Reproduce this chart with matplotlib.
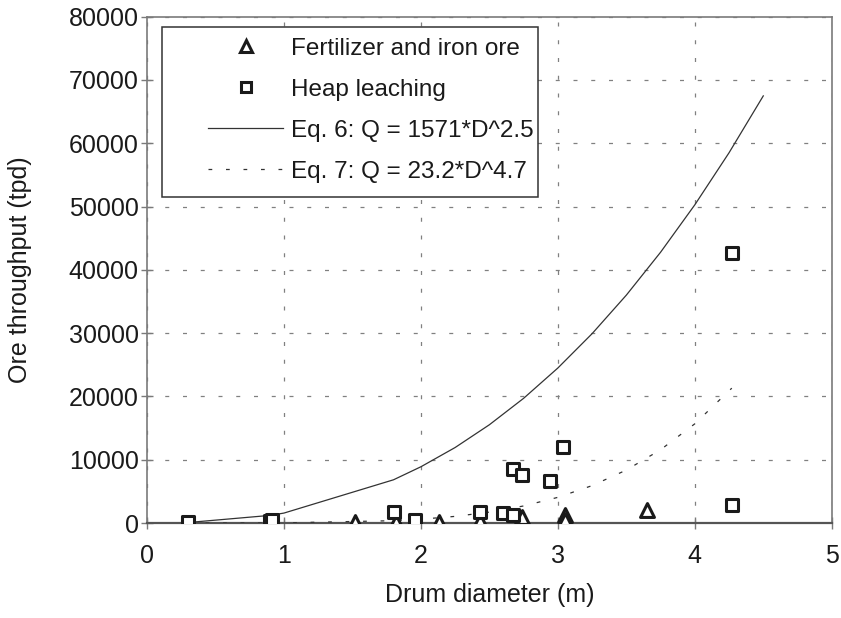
import numpy as np
import matplotlib
matplotlib.use('Agg')
import matplotlib.pyplot as plt
from matplotlib.patches import Rectangle
from matplotlib.lines import Line2D

plt.rcParams['font.family'] = ['Liberation Sans', 'DejaVu Sans']

# measured drums
fert_d = [1.52, 1.82, 2.13, 2.43, 2.74, 3.05, 3.05, 3.65]
fert_q = [200, 200, 200, 300, 1000, 1200, 500, 2050]

heap_d = [0.3, 0.9, 0.91, 1.8, 1.96, 2.43, 2.6, 2.67, 2.67, 2.74, 2.94, 3.04, 4.27, 4.27]
heap_q = [100, 300, 500, 1800, 500, 1800, 1530, 1260, 8500, 7600, 6700, 12000, 2800, 42600]

# correlation curves: Q = a * D^b
eq6_a, eq6_b = 1571, 2.5
eq7_a, eq7_b = 23.2, 4.7
eq6_d = [0.3, 0.9, 1.0, 1.8, 2.0, 2.25, 2.5, 2.75, 3.0, 3.25, 3.5, 3.75, 4.0, 4.25, 4.5]
eq7_d = [0.3, 0.9, 1.0, 1.8, 2.0, 2.25, 2.5, 2.75, 3.0, 3.25, 3.5, 3.75, 4.0, 4.27]

labels = ['Fertilizer and iron ore', 'Heap leaching',
          'Eq. 6: Q = 1571*D^2.5', 'Eq. 7: Q = 23.2*D^4.7']

ink = '#1a1a1a'
dotted = (0, (3, 11))

fig = plt.figure(figsize=(8.41, 6.18), dpi=100)
ax = fig.add_axes([0.1748, 0.1537, 0.8142, 0.8193])

d6 = np.array(eq6_d)
d7 = np.array(eq7_d)
ax.plot(d6, eq6_a * d6 ** eq6_b, color='#333333', lw=0.9, zorder=3)
ax.plot(d7, eq7_a * d7 ** eq7_b, color='#333333', lw=0.9,
        linestyle=dotted, zorder=3)

ax.scatter(fert_d, fert_q, marker='^', s=100, facecolor='white',
           edgecolor=ink, linewidth=2.2, zorder=4)
ax.scatter(heap_d, heap_q, marker='s', s=75, facecolor='white',
           edgecolor=ink, linewidth=2.2, zorder=4)

ax.set_xlim(0, 5)
ax.set_ylim(0, 80000)
ax.set_xticks([0, 1, 2, 3, 4, 5])
ax.set_yticks(range(0, 80001, 10000))
ax.grid(True, color='#808080', linestyle=(0, (3.2, 11)), linewidth=0.9)
ax.set_axisbelow(True)

for sp in ax.spines.values():
    sp.set_color('#7a7a7a')
    sp.set_linewidth(1.2)
ax.spines['bottom'].set_color('#555555')
ax.spines['bottom'].set_linewidth(1.6)

ax.tick_params(axis='both', direction='inout', length=8, width=1,
               color='#7a7a7a', labelsize=18, labelcolor=ink)
ax.tick_params(axis='x', pad=11)
ax.tick_params(axis='y', pad=2)
ax.set_xlabel('Drum diameter (m)', fontsize=18, color=ink)
ax.set_ylabel('Ore throughput (tpd)', fontsize=18, color=ink)
ax.xaxis.set_label_coords(0.5, -0.119)
ax.yaxis.set_label_coords(-0.168, 0.5)

# legend box drawn by hand so the padding can follow the layout
ax.add_patch(Rectangle((0.022, 0.644), 0.549, 0.336, transform=ax.transAxes,
                       facecolor='white', edgecolor='#333333', lw=1.1, zorder=5))
handles = [
    Line2D([], [], marker='^', linestyle='none', markersize=8,
           markerfacecolor='white', markeredgecolor=ink, markeredgewidth=2.2),
    Line2D([], [], marker='s', linestyle='none', markersize=7,
           markerfacecolor='white', markeredgecolor=ink, markeredgewidth=2.2),
    Line2D([], [], color='#333333', lw=0.9),
    Line2D([], [], color='#333333', lw=0.9, linestyle=dotted),
]
leg = ax.legend(handles, labels, loc='upper left', bbox_to_anchor=(0.089, 0.958),
                frameon=False, fontsize=17.5, handlelength=3.1, handletextpad=0.33,
                labelspacing=0.78, borderpad=0, borderaxespad=0)
leg.set_zorder(6)
for t in leg.get_texts():
    t.set_color(ink)

fig.savefig('out.png', dpi=100)
